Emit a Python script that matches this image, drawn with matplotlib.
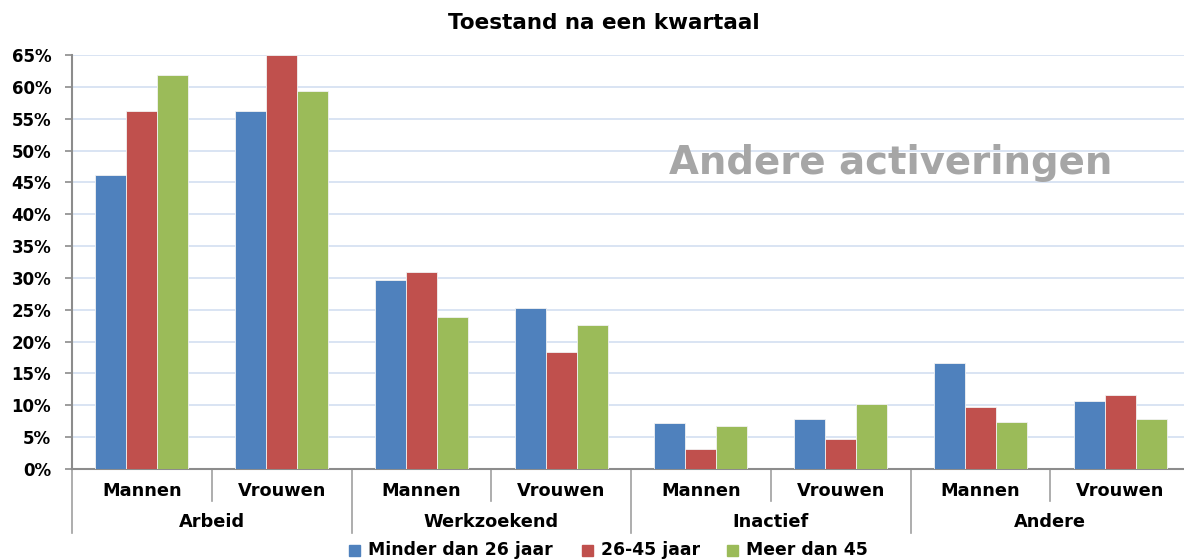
import numpy as np
import matplotlib.pyplot as plt
from matplotlib.transforms import blended_transform_factory
from matplotlib.patches import Rectangle

# Data
categories = ["Arbeid", "Werkzoekend", "Inactief", "Andere"]
genders = ["Mannen", "Vrouwen"]
series_names = ["Minder dan 26 jaar", "26-45 jaar", "Meer dan 45"]
minder_26 = [46.2, 56.2, 29.7, 25.2, 7.3, 7.9, 16.7, 10.6]
jaar_26_45 = [56.2, 65.0, 31.0, 18.4, 3.1, 4.7, 9.7, 11.6]
meer_45 = [61.9, 59.3, 23.9, 22.6, 6.8, 10.2, 7.4, 7.8]
colors = ["#4f81bd", "#c0504d", "#9bbb59"]
yticks = list(range(0, 70, 5))

W, H = 1184, 560
fig = plt.figure(figsize=(W / 100, H / 100), dpi=100)
ax = fig.add_axes([72 / W, 1 - 469 / H, 1118 / W, 414 / H])

x = np.arange(len(minder_26))
bw = 0.222
for i, (vals, c) in enumerate(zip([minder_26, jaar_26_45, meer_45], colors)):
    ax.bar(x + (i - 1) * bw, vals, width=bw, color=c, edgecolor="#f2f2f2",
           linewidth=0.6, zorder=3)

ax.set_xlim(-0.5, len(x) - 0.5)
ax.set_ylim(0, 65)
ax.set_yticks(yticks)
ax.set_yticklabels([f"{t}%" for t in yticks], fontsize=12, fontweight="bold")
ax.set_xticks([])
ax.grid(axis="y", color="#cfdcf0", linewidth=1.1, zorder=0)
for s in ["top", "right"]:
    ax.spines[s].set_visible(False)
ax.spines["left"].set_color("#8c8c8c")
ax.spines["left"].set_linewidth(1.5)
ax.spines["bottom"].set_color("#8c8c8c")
ax.spines["bottom"].set_linewidth(1.5)
ax.tick_params(axis="y", length=5, color="#8c8c8c", width=1.2, pad=10)

# multi-level category axis
tr = blended_transform_factory(ax.transData, fig.transFigure)
y0 = 1 - 469 / H
for k in range(len(x) + 1):
    bottom = 1 - 533 / H if k % 2 == 0 else 1 - 501 / H
    ax.plot([k - 0.5, k - 0.5], [y0, bottom], color="#a0a0a0", lw=1.2,
            transform=tr, clip_on=False)
for k in range(len(x)):
    ax.text(k, 1 - 491 / H, genders[k % 2], transform=tr, ha="center",
            va="center", fontsize=12.8, fontweight="bold")
for j, cat in enumerate(categories):
    ax.text(2 * j + 0.5, 1 - 522 / H, cat, transform=tr, ha="center",
            va="center", fontsize=12.8, fontweight="bold")

# title and overlay text
fig.text(604 / W, 1 - 23 / H, "Toestand na een kwartaal", ha="center",
         va="center", fontsize=15.5, fontweight="bold")
fig.text(891 / W, 1 - 163 / H, "Andere activeringen", ha="center",
         va="center", fontsize=27.8, fontweight="bold", color="#a6a6a6")

# legend
leg_x = [349, 582, 727]
for lx, name, c in zip(leg_x, series_names, colors):
    fig.patches.append(Rectangle((lx / W, 1 - 556 / H), 11 / W, 11 / H,
                                 color=c, transform=fig.transFigure))
    fig.text((lx + 19) / W, 1 - 550 / H, name, ha="left", va="center",
             fontsize=12.4, fontweight="bold")

fig.savefig("out.png", dpi=100)
